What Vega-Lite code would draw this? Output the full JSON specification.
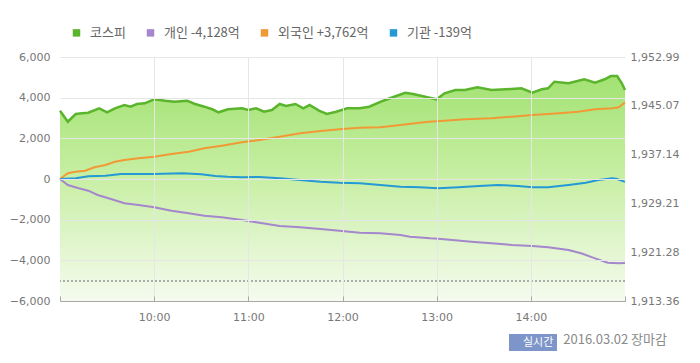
{
  "$schema": "https://vega.github.io/schema/vega-lite/v6.json",
  "width": 565,
  "height": 244,
  "autosize": {"type": "none"},
  "padding": {"left": 60, "top": 57, "right": 75, "bottom": 62},
  "background": "white",
  "config": {"view": {"stroke": null}, "font": "Noto Sans CJK KR"},
  "title": {"text": "2016.03.02 장마감", "orient": "bottom", "anchor": "end", "frame": "bounds", "fontSize": 13, "fontWeight": "normal", "color": "#8a8a8a", "font": "Noto Sans CJK KR", "offset": -17, "dx": -12},
  "datasets": {
    "kospi": [
      {"time": "2016-03-02T09:00", "kospi": 1944.27},
      {"time": "2016-03-02T09:05", "kospi": 1942.48},
      {"time": "2016-03-02T09:10", "kospi": 1943.73},
      {"time": "2016-03-02T09:14", "kospi": 1943.85},
      {"time": "2016-03-02T09:18", "kospi": 1943.94},
      {"time": "2016-03-02T09:25", "kospi": 1944.66},
      {"time": "2016-03-02T09:30", "kospi": 1944.01},
      {"time": "2016-03-02T09:35", "kospi": 1944.66},
      {"time": "2016-03-02T09:41", "kospi": 1945.19},
      {"time": "2016-03-02T09:45", "kospi": 1944.92},
      {"time": "2016-03-02T09:49", "kospi": 1945.36},
      {"time": "2016-03-02T09:54", "kospi": 1945.47},
      {"time": "2016-03-02T10:00", "kospi": 1946.12},
      {"time": "2016-03-02T10:07", "kospi": 1945.89},
      {"time": "2016-03-02T10:13", "kospi": 1945.73},
      {"time": "2016-03-02T10:21", "kospi": 1945.89},
      {"time": "2016-03-02T10:26", "kospi": 1945.36},
      {"time": "2016-03-02T10:32", "kospi": 1944.92},
      {"time": "2016-03-02T10:37", "kospi": 1944.50},
      {"time": "2016-03-02T10:41", "kospi": 1944.01},
      {"time": "2016-03-02T10:47", "kospi": 1944.50},
      {"time": "2016-03-02T10:56", "kospi": 1944.66},
      {"time": "2016-03-02T11:00", "kospi": 1944.38},
      {"time": "2016-03-02T11:05", "kospi": 1944.66},
      {"time": "2016-03-02T11:10", "kospi": 1944.11},
      {"time": "2016-03-02T11:15", "kospi": 1944.38},
      {"time": "2016-03-02T11:20", "kospi": 1945.36},
      {"time": "2016-03-02T11:24", "kospi": 1945.03},
      {"time": "2016-03-02T11:30", "kospi": 1945.36},
      {"time": "2016-03-02T11:35", "kospi": 1944.66},
      {"time": "2016-03-02T11:39", "kospi": 1945.19},
      {"time": "2016-03-02T11:45", "kospi": 1944.27},
      {"time": "2016-03-02T11:50", "kospi": 1943.73},
      {"time": "2016-03-02T11:56", "kospi": 1944.11},
      {"time": "2016-03-02T12:03", "kospi": 1944.66},
      {"time": "2016-03-02T12:11", "kospi": 1944.66},
      {"time": "2016-03-02T12:17", "kospi": 1944.92},
      {"time": "2016-03-02T12:26", "kospi": 1945.89},
      {"time": "2016-03-02T12:32", "kospi": 1946.45},
      {"time": "2016-03-02T12:40", "kospi": 1947.19},
      {"time": "2016-03-02T12:45", "kospi": 1946.98},
      {"time": "2016-03-02T12:54", "kospi": 1946.45},
      {"time": "2016-03-02T13:00", "kospi": 1946.12},
      {"time": "2016-03-02T13:05", "kospi": 1947.09},
      {"time": "2016-03-02T13:12", "kospi": 1947.63},
      {"time": "2016-03-02T13:18", "kospi": 1947.63},
      {"time": "2016-03-02T13:26", "kospi": 1948.07},
      {"time": "2016-03-02T13:35", "kospi": 1947.63},
      {"time": "2016-03-02T13:44", "kospi": 1947.74},
      {"time": "2016-03-02T13:54", "kospi": 1947.91},
      {"time": "2016-03-02T14:01", "kospi": 1947.19},
      {"time": "2016-03-02T14:07", "kospi": 1947.74},
      {"time": "2016-03-02T14:11", "kospi": 1947.91},
      {"time": "2016-03-02T14:15", "kospi": 1948.98},
      {"time": "2016-03-02T14:24", "kospi": 1948.72},
      {"time": "2016-03-02T14:34", "kospi": 1949.37},
      {"time": "2016-03-02T14:41", "kospi": 1948.82},
      {"time": "2016-03-02T14:47", "kospi": 1949.37},
      {"time": "2016-03-02T14:51", "kospi": 1949.90},
      {"time": "2016-03-02T14:55", "kospi": 1949.90},
      {"time": "2016-03-02T14:58", "kospi": 1948.72},
      {"time": "2016-03-02T15:00", "kospi": 1947.63}
    ],
    "flows": [
      {"time": "2016-03-02T09:00", "series": "외국인", "value": 0},
      {"time": "2016-03-02T09:05", "series": "외국인", "value": 280},
      {"time": "2016-03-02T09:10", "series": "외국인", "value": 359},
      {"time": "2016-03-02T09:16", "series": "외국인", "value": 408},
      {"time": "2016-03-02T09:22", "series": "외국인", "value": 576},
      {"time": "2016-03-02T09:29", "series": "외국인", "value": 689},
      {"time": "2016-03-02T09:35", "series": "외국인", "value": 851},
      {"time": "2016-03-02T09:41", "series": "외국인", "value": 935},
      {"time": "2016-03-02T09:50", "series": "외국인", "value": 1018},
      {"time": "2016-03-02T10:00", "series": "외국인", "value": 1097},
      {"time": "2016-03-02T10:11", "series": "외국인", "value": 1230},
      {"time": "2016-03-02T10:22", "series": "외국인", "value": 1343},
      {"time": "2016-03-02T10:32", "series": "외국인", "value": 1510},
      {"time": "2016-03-02T10:43", "series": "외국인", "value": 1638},
      {"time": "2016-03-02T10:56", "series": "외국인", "value": 1805},
      {"time": "2016-03-02T11:07", "series": "외국인", "value": 1918},
      {"time": "2016-03-02T11:20", "series": "외국인", "value": 2081},
      {"time": "2016-03-02T11:33", "series": "외국인", "value": 2248},
      {"time": "2016-03-02T11:46", "series": "외국인", "value": 2361},
      {"time": "2016-03-02T11:58", "series": "외국인", "value": 2445},
      {"time": "2016-03-02T12:11", "series": "외국인", "value": 2523},
      {"time": "2016-03-02T12:24", "series": "외국인", "value": 2543},
      {"time": "2016-03-02T12:37", "series": "외국인", "value": 2656},
      {"time": "2016-03-02T12:49", "series": "외국인", "value": 2769},
      {"time": "2016-03-02T12:55", "series": "외국인", "value": 2818},
      {"time": "2016-03-02T13:05", "series": "외국인", "value": 2868},
      {"time": "2016-03-02T13:18", "series": "외국인", "value": 2937},
      {"time": "2016-03-02T13:35", "series": "외국인", "value": 2986},
      {"time": "2016-03-02T13:48", "series": "외국인", "value": 3064},
      {"time": "2016-03-02T14:01", "series": "외국인", "value": 3148},
      {"time": "2016-03-02T14:18", "series": "외국인", "value": 3232},
      {"time": "2016-03-02T14:30", "series": "외국인", "value": 3310},
      {"time": "2016-03-02T14:41", "series": "외국인", "value": 3428},
      {"time": "2016-03-02T14:52", "series": "외국인", "value": 3478},
      {"time": "2016-03-02T14:56", "series": "외국인", "value": 3527},
      {"time": "2016-03-02T15:00", "series": "외국인", "value": 3762},
      {"time": "2016-03-02T09:00", "series": "기관", "value": 0},
      {"time": "2016-03-02T09:10", "series": "기관", "value": 34},
      {"time": "2016-03-02T09:18", "series": "기관", "value": 130},
      {"time": "2016-03-02T09:29", "series": "기관", "value": 162},
      {"time": "2016-03-02T09:39", "series": "기관", "value": 240},
      {"time": "2016-03-02T09:50", "series": "기관", "value": 246},
      {"time": "2016-03-02T10:00", "series": "기관", "value": 246},
      {"time": "2016-03-02T10:18", "series": "기관", "value": 280},
      {"time": "2016-03-02T10:30", "series": "기관", "value": 230},
      {"time": "2016-03-02T10:39", "series": "기관", "value": 148},
      {"time": "2016-03-02T10:47", "series": "기관", "value": 105},
      {"time": "2016-03-02T10:56", "series": "기관", "value": 84},
      {"time": "2016-03-02T11:07", "series": "기관", "value": 100},
      {"time": "2016-03-02T11:20", "series": "기관", "value": 34},
      {"time": "2016-03-02T11:33", "series": "기관", "value": -49},
      {"time": "2016-03-02T11:46", "series": "기관", "value": -133},
      {"time": "2016-03-02T11:58", "series": "기관", "value": -182},
      {"time": "2016-03-02T12:11", "series": "기관", "value": -212},
      {"time": "2016-03-02T12:24", "series": "기관", "value": -295},
      {"time": "2016-03-02T12:37", "series": "기관", "value": -379},
      {"time": "2016-03-02T12:49", "series": "기관", "value": -408},
      {"time": "2016-03-02T13:01", "series": "기관", "value": -457},
      {"time": "2016-03-02T13:14", "series": "기관", "value": -408},
      {"time": "2016-03-02T13:27", "series": "기관", "value": -344},
      {"time": "2016-03-02T13:39", "series": "기관", "value": -295},
      {"time": "2016-03-02T13:52", "series": "기관", "value": -344},
      {"time": "2016-03-02T14:01", "series": "기관", "value": -408},
      {"time": "2016-03-02T14:11", "series": "기관", "value": -408},
      {"time": "2016-03-02T14:24", "series": "기관", "value": -295},
      {"time": "2016-03-02T14:35", "series": "기관", "value": -182},
      {"time": "2016-03-02T14:43", "series": "기관", "value": -49},
      {"time": "2016-03-02T14:52", "series": "기관", "value": 34},
      {"time": "2016-03-02T14:55", "series": "기관", "value": 0},
      {"time": "2016-03-02T15:00", "series": "기관", "value": -139},
      {"time": "2016-03-02T09:00", "series": "개인", "value": 0},
      {"time": "2016-03-02T09:05", "series": "개인", "value": -295},
      {"time": "2016-03-02T09:12", "series": "개인", "value": -457},
      {"time": "2016-03-02T09:18", "series": "개인", "value": -576},
      {"time": "2016-03-02T09:24", "series": "개인", "value": -787},
      {"time": "2016-03-02T09:33", "series": "개인", "value": -999},
      {"time": "2016-03-02T09:41", "series": "개인", "value": -1195},
      {"time": "2016-03-02T09:50", "series": "개인", "value": -1279},
      {"time": "2016-03-02T10:00", "series": "개인", "value": -1392},
      {"time": "2016-03-02T10:11", "series": "개인", "value": -1559},
      {"time": "2016-03-02T10:22", "series": "개인", "value": -1687},
      {"time": "2016-03-02T10:32", "series": "개인", "value": -1805},
      {"time": "2016-03-02T10:43", "series": "개인", "value": -1884},
      {"time": "2016-03-02T10:56", "series": "개인", "value": -2017},
      {"time": "2016-03-02T11:07", "series": "개인", "value": -2150},
      {"time": "2016-03-02T11:20", "series": "개인", "value": -2312},
      {"time": "2016-03-02T11:33", "series": "개인", "value": -2376},
      {"time": "2016-03-02T11:46", "series": "개인", "value": -2459},
      {"time": "2016-03-02T11:58", "series": "개인", "value": -2543},
      {"time": "2016-03-02T12:11", "series": "개인", "value": -2641},
      {"time": "2016-03-02T12:24", "series": "개인", "value": -2671},
      {"time": "2016-03-02T12:37", "series": "개인", "value": -2755},
      {"time": "2016-03-02T12:43", "series": "개인", "value": -2838},
      {"time": "2016-03-02T12:56", "series": "개인", "value": -2917},
      {"time": "2016-03-02T13:01", "series": "개인", "value": -2937},
      {"time": "2016-03-02T13:10", "series": "개인", "value": -3000},
      {"time": "2016-03-02T13:22", "series": "개인", "value": -3084},
      {"time": "2016-03-02T13:35", "series": "개인", "value": -3163},
      {"time": "2016-03-02T13:48", "series": "개인", "value": -3246},
      {"time": "2016-03-02T14:01", "series": "개인", "value": -3296},
      {"time": "2016-03-02T14:11", "series": "개인", "value": -3360},
      {"time": "2016-03-02T14:24", "series": "개인", "value": -3492},
      {"time": "2016-03-02T14:32", "series": "개인", "value": -3655},
      {"time": "2016-03-02T14:41", "series": "개인", "value": -3901},
      {"time": "2016-03-02T14:49", "series": "개인", "value": -4117},
      {"time": "2016-03-02T14:56", "series": "개인", "value": -4147},
      {"time": "2016-03-02T15:00", "series": "개인", "value": -4128}
    ]
  },
  "layer": [
    {
      "data": {"name": "kospi"},
      "layer": [
        {
          "mark": {"type": "area", "color": {"gradient": "linear", "x1": 0, "y1": 0, "x2": 0, "y2": 1, "stops": [{"offset": 0, "color": "#a2e272"}, {"offset": 0.45, "color": "#c8efa4"}, {"offset": 1, "color": "#f5fbef"}]}},
          "encoding": {
            "x": {
              "field": "time", "type": "temporal", "title": null,
              "scale": {"domain": [{"year": 2016, "month": 3, "date": 2, "hours": 9}, {"year": 2016, "month": 3, "date": 2, "hours": 15}]},
              "axis": {
                "values": [
                  {"year": 2016, "month": 3, "date": 2, "hours": 9},
                  {"year": 2016, "month": 3, "date": 2, "hours": 10},
                  {"year": 2016, "month": 3, "date": 2, "hours": 11},
                  {"year": 2016, "month": 3, "date": 2, "hours": 12},
                  {"year": 2016, "month": 3, "date": 2, "hours": 13},
                  {"year": 2016, "month": 3, "date": 2, "hours": 14},
                  {"year": 2016, "month": 3, "date": 2, "hours": 15}
                ],
                "labelExpr": "hours(datum.value) == 9 || hours(datum.value) == 15 ? '' : timeFormat(datum.value, '%H:%M')",
                "grid": true,
                "gridColor": "#e6e6e6",
                "gridOpacity": {"condition": {"test": "hours(datum.value) == 9 || hours(datum.value) == 15", "value": 0}, "value": 1},
                "domainColor": "#a8a8a8",
                "tickColor": "#a8a8a8",
                "tickSize": -5,
                "labelPadding": 15,
                "labelColor": "#777777",
                "labelFont": "DejaVu Sans",
                "labelFontSize": 11,
                "zindex": 1
              }
            },
            "y": {
              "field": "kospi", "type": "quantitative", "title": null,
              "scale": {"domain": [1913.36, 1952.99], "zero": false, "nice": false},
              "axis": {
                "orient": "right",
                "values": [1913.36, 1921.28, 1929.21, 1937.14, 1945.07, 1952.99],
                "format": ",.2f",
                "grid": false, "domain": false, "ticks": false,
                "labelPadding": 5,
                "labelColor": "#777777",
                "labelFont": "DejaVu Sans",
                "labelFontSize": 11
              }
            },
            "y2": {"datum": 1913.36}
          }
        },
        {
          "mark": {"type": "line", "strokeWidth": 2.5},
          "encoding": {
            "x": {"field": "time", "type": "temporal", "title": null},
            "y": {"field": "kospi", "type": "quantitative", "title": null},
            "color": {
              "datum": "코스피",
              "scale": {"domain": ["코스피", "개인", "외국인", "기관"], "range": ["#5bb52c", "#a487cc", "#f19a35", "#2599d6"]},
              "legend": {
                "orient": "none", "legendX": 10, "legendY": -31, "direction": "horizontal", "title": null, "padding": 0,
                "symbolType": "square", "symbolSize": 12, "symbolStrokeWidth": 4,
                "labelFont": "Noto Sans CJK KR", "labelFontSize": 13, "labelColor": "#666666", "labelOffset": 7, "columnPadding": 14,
                "labelExpr": "datum.label == '개인' ? '개인 -4,128억' : datum.label == '외국인' ? '외국인 +3,762억' : datum.label == '기관' ? '기관 -139억' : datum.label"
              }
            }
          }
        }
      ]
    },
    {
      "data": {"name": "flows"},
      "layer": [
        {
          "mark": {"type": "line", "strokeWidth": 2},
          "encoding": {
            "x": {"field": "time", "type": "temporal", "title": null},
            "y": {
              "field": "value", "type": "quantitative", "title": null,
              "scale": {"domain": [-6000, 6000], "nice": false},
              "axis": {
                "orient": "left",
                "values": [-6000, -4000, -2000, 0, 2000, 4000, 6000],
                "format": ",d",
                "grid": true, "gridColor": "#e6e6e6",
                "domain": false, "ticks": false,
                "labelPadding": 10,
                "labelColor": "#777777",
                "labelFont": "DejaVu Sans",
                "labelFontSize": 11,
                "zindex": 1
              }
            },
            "color": {
              "field": "series", "type": "nominal",
              "scale": {"domain": ["코스피", "개인", "외국인", "기관"], "range": ["#5bb52c", "#a487cc", "#f19a35", "#2599d6"]},
              "legend": {
                "orient": "none", "legendX": 10, "legendY": -31, "direction": "horizontal", "title": null, "padding": 0,
                "symbolType": "square", "symbolSize": 12, "symbolStrokeWidth": 4,
                "labelFont": "Noto Sans CJK KR", "labelFontSize": 13, "labelColor": "#666666", "labelOffset": 7, "columnPadding": 14,
                "labelExpr": "datum.label == '개인' ? '개인 -4,128억' : datum.label == '외국인' ? '외국인 +3,762억' : datum.label == '기관' ? '기관 -139억' : datum.label"
              }
            }
          }
        },
        {
          "mark": {"type": "rule", "color": "#aaaaaa", "strokeWidth": 1},
          "encoding": {
            "y": {"datum": -5000},
            "strokeDash": {
              "datum": "실시간",
              "scale": {"range": [[2, 2]]},
              "legend": {
                "orient": "none", "legendX": 449, "legendY": 277, "title": null,
                "fillColor": "#7d95c8", "padding": 3,
                "symbolSize": 0, "symbolStrokeWidth": 0, "labelOffset": 0,
                "labelColor": "white", "labelFont": "Noto Sans CJK KR", "labelFontSize": 11
              }
            }
          }
        }
      ]
    }
  ],
  "resolve": {"scale": {"y": "independent"}}
}
